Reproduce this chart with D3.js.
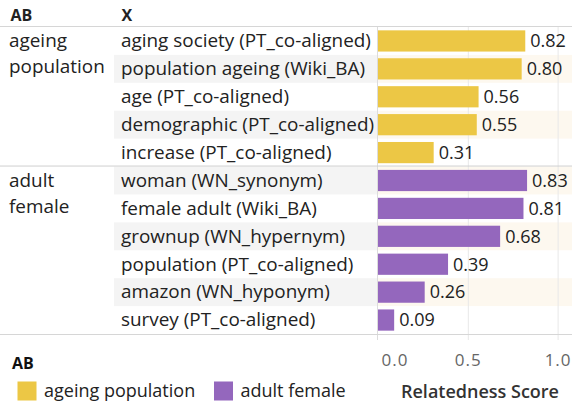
<!DOCTYPE html>
<html>
<head>
<meta charset="utf-8">
<script src="https://cdn.jsdelivr.net/npm/d3@7"></script>
<style>
  html, body { margin: 0; padding: 0; background: #fff; }
  svg { display: block; font-family: "Open Sans", "Noto Sans", sans-serif; }
</style>
</head>
<body>
<svg id="chart" width="572" height="406"></svg>
<script>
const categories = [
  "aging society (PT_co-aligned)",
  "population ageing (Wiki_BA)",
  "age (PT_co-aligned)",
  "demographic (PT_co-aligned)",
  "increase (PT_co-aligned)",
  "woman (WN_synonym)",
  "female adult (Wiki_BA)",
  "grownup (WN_hypernym)",
  "population (PT_co-aligned)",
  "amazon (WN_hyponym)",
  "survey (PT_co-aligned)"
];
const categoryGroups = [
  "ageing population", "ageing population", "ageing population", "ageing population", "ageing population",
  "adult female", "adult female", "adult female", "adult female", "adult female", "adult female"
];
const scores = [0.82, 0.80, 0.56, 0.55, 0.31, 0.83, 0.81, 0.68, 0.39, 0.26, 0.09];
const groups = ["ageing population", "adult female"];
const groupLabelLines = [["ageing", "population"], ["adult", "female"]];
const groupColors = ["#ecc745", "#9467bd"];
const xTicks = [0, 0.5, 1.0];
const headerLabels = ["AB", "X"];
const legendTitle = "AB";
const axisTitle = "Relatedness Score";

const svg = d3.select("#chart");
const W = 572;
const rowsTop = 27, rowsBottom = 334;
const paneLeft = 378;

const rows = categories.map((c, i) => ({ key: i, label: c, group: categoryGroups[i], value: scores[i] }));

const y = d3.scaleBand().domain(rows.map(d => d.key)).range([rowsTop, rowsBottom]).paddingInner(0).paddingOuter(0);
const x = d3.scaleLinear().domain([0, 1]).range([paneLeft, 557.6]);
const color = d3.scaleOrdinal().domain(groups).range(groupColors);

// banding
const bands = svg.append("g");
bands.selectAll("rect.lb").data(rows.filter(d => d.key % 2 === 1)).join("rect")
  .attr("x", 114).attr("width", paneLeft - 114)
  .attr("y", d => y(d.key)).attr("height", y.bandwidth())
  .attr("fill", "#f4f4f4");
bands.selectAll("rect.rb").data(rows.filter(d => d.key % 2 === 1)).join("rect")
  .attr("x", paneLeft).attr("width", W - paneLeft)
  .attr("y", d => y(d.key)).attr("height", y.bandwidth())
  .attr("fill", "#fdf8ef");

// gridlines
const grid = svg.append("g");
grid.selectAll("line").data(xTicks.filter(t => t > 0)).join("line")
  .attr("x1", d => x(d) + 0.5).attr("x2", d => x(d) + 0.5)
  .attr("y1", rowsTop).attr("y2", rowsBottom + 6)
  .attr("stroke", "#e8e8e8").attr("stroke-width", 1);
grid.append("line")
  .attr("x1", x(0) - 0.5).attr("x2", x(0) - 0.5)
  .attr("y1", rowsTop).attr("y2", rowsBottom + 6)
  .attr("stroke", "#dcdcdc").attr("stroke-width", 1);

// horizontal rules
const groupStart = groups.map(g => rows.find(r => r.group === g).key);
svg.append("line").attr("x1", 0).attr("x2", W).attr("y1", rowsTop - 0.5).attr("y2", rowsTop - 0.5)
  .attr("stroke", "#d6d6d6");
groupStart.slice(1).forEach(k => {
  svg.append("line").attr("x1", 0).attr("x2", W).attr("y1", y(k) - 0.5).attr("y2", y(k) - 0.5)
    .attr("stroke", "#cfcfcf");
});
svg.append("line").attr("x1", 0).attr("x2", W).attr("y1", rowsBottom + 0.5).attr("y2", rowsBottom + 0.5)
  .attr("stroke", "#d6d6d6");

// bars
const barH = y.bandwidth() * 0.76;
svg.append("g").selectAll("rect").data(rows).join("rect")
  .attr("x", x(0))
  .attr("y", d => y(d.key) + (y.bandwidth() - barH) / 2)
  .attr("width", d => x(d.value) - x(0))
  .attr("height", barH)
  .attr("fill", d => color(d.group));

// value labels
const fmt = d3.format(".2f");
svg.append("g").selectAll("text").data(rows).join("text")
  .attr("x", d => x(d.value) + 5)
  .attr("y", d => y(d.key) + y.bandwidth() / 2 + 6.3)
  .attr("font-size", 18)
  .attr("fill", "#222")
  .text(d => fmt(d.value));

// row labels
svg.append("g").selectAll("text").data(rows).join("text")
  .attr("x", 121)
  .attr("y", d => y(d.key) + y.bandwidth() / 2 + 6.3)
  .attr("font-size", 18.9)
  .attr("fill", "#222")
  .text(d => d.label);

// group labels
groups.forEach((g, gi) => {
  const k = groupStart[gi];
  const base = y(k) + y.bandwidth() / 2 + 6.3;
  groupLabelLines[gi].forEach((line, li) => {
    svg.append("text").attr("x", 9).attr("y", base + li * 26)
      .attr("font-size", 18.9).attr("fill", "#222").text(line);
  });
});

// headers
svg.append("text").attr("x", 10.5).attr("y", 20.5).attr("font-size", 16).attr("font-weight", 700)
  .attr("fill", "#222").text(headerLabels[0]);
svg.append("text").attr("x", 121.5).attr("y", 20.5).attr("font-size", 16).attr("font-weight", 700)
  .attr("fill", "#222").text(headerLabels[1]);

// x axis
const axis = d3.axisBottom(x).tickValues(xTicks).tickFormat(d3.format(".1f")).tickSize(0).tickPadding(0);
const axG = svg.append("g").attr("transform", `translate(0, 349.5)`).call(axis);
axG.select(".domain").remove();
axG.selectAll("text").attr("font-size", 17).attr("fill", "#666")
  .attr("font-family", "'Open Sans', sans-serif").attr("letter-spacing", 1)
  .attr("dy", "0.95em");
axG.selectAll("text").filter(d => d === 0).attr("text-anchor", "start").attr("x", 3);

svg.append("text").attr("x", 480).attr("y", 398).attr("text-anchor", "middle")
  .attr("font-size", 18).attr("font-weight", 600).attr("fill", "#333").text(axisTitle);

// legend
svg.append("text").attr("x", 12).attr("y", 369).attr("font-size", 16).attr("font-weight", 700)
  .attr("fill", "#111").text(legendTitle);
const legendX = [17.5, 214];
const leg = svg.append("g").selectAll("g").data(groups).join("g")
  .attr("transform", (d, i) => `translate(${legendX[i]}, 381.5)`);
leg.append("rect").attr("width", 19).attr("height", 19).attr("fill", d => color(d));
leg.append("text").attr("x", 26.5).attr("y", 15.5).attr("font-size", 18).attr("fill", "#222").text(d => d);
</script>
</body>
</html>
